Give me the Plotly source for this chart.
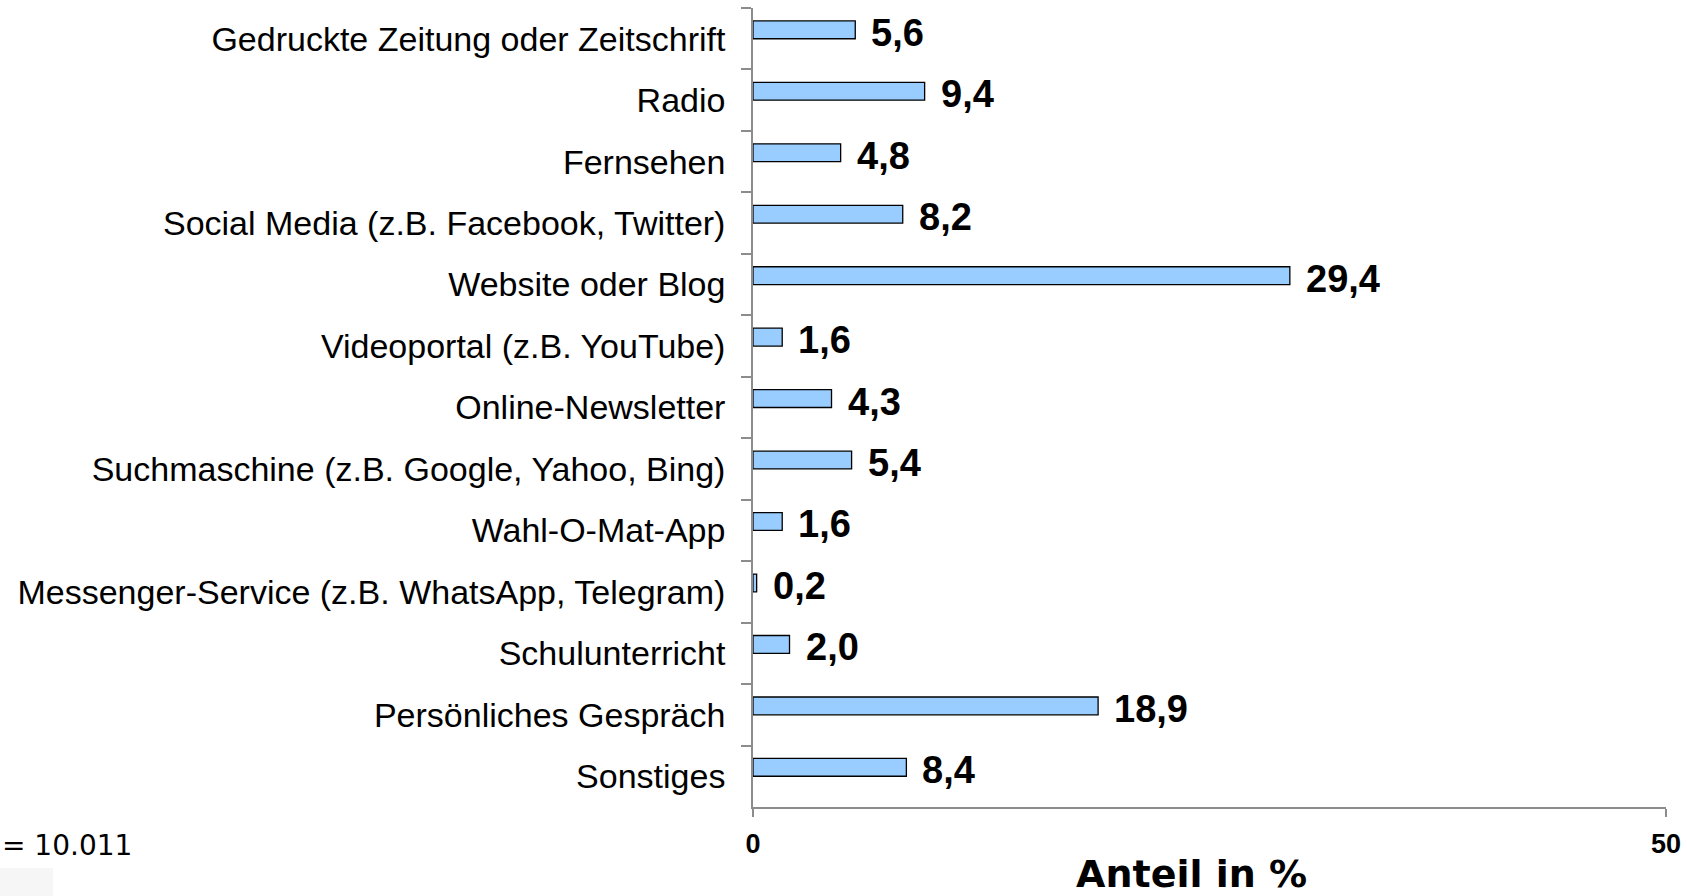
import plotly.graph_objects as go

categories = [
    "Gedruckte Zeitung oder Zeitschrift",
    "Radio",
    "Fernsehen",
    "Social Media (z.B. Facebook, Twitter)",
    "Website oder Blog",
    "Videoportal (z.B. YouTube)",
    "Online-Newsletter",
    "Suchmaschine (z.B. Google, Yahoo, Bing)",
    "Wahl-O-Mat-App",
    "Messenger-Service (z.B. WhatsApp, Telegram)",
    "Schulunterricht",
    "Persönliches Gespräch",
    "Sonstiges",
]
anteil = [5.6, 9.4, 4.8, 8.2, 29.4, 1.6, 4.3, 5.4, 1.6, 0.2, 2.0, 18.9, 8.4]
x_ticks = [0, 50]
n_text = "= 10.011"
x_title = "Anteil in %"

AXIS_GREY = "#8c8c8c"
W, H = 1687, 896
ML, MR, MT, MB = 753, 21, 8, 89
plot_w = W - ML - MR
plot_h = H - MT - MB


def px_x(p):
    return (p - ML) / plot_w


def px_y(p):
    return (H - MB - p) / plot_h


fig = go.Figure()
fig.add_trace(go.Bar(
    x=anteil,
    y=categories,
    orientation="h",
    width=0.29,
    offset=-0.29,
    marker=dict(color="#99ccff", line=dict(color="#000000", width=1.3)),
    hoverinfo="x+y",
))

# value labels with German decimal comma
for cat, v in zip(categories, anteil):
    fig.add_annotation(
        x=v, y=cat, xref="x", yref="y",
        text=f"{v:.1f}".replace(".", ","),
        showarrow=False, xanchor="left", yanchor="middle",
        xshift=14, yshift=6,
        font=dict(family="Liberation Sans, Arial, sans-serif", size=38, color="black", weight="bold"),
    )

fig.add_annotation(
    x=px_x(1191), y=px_y(874), xref="paper", yref="paper",
    text=x_title, showarrow=False, xanchor="center", yanchor="middle",
    font=dict(family="DejaVu Sans, sans-serif", size=38, color="black", weight="bold"),
)
fig.add_annotation(
    x=px_x(0), y=px_y(845), xref="paper", yref="paper",
    text=n_text, showarrow=False, xanchor="left", yanchor="middle",
    font=dict(family="DejaVu Sans, sans-serif", size=28, color="black"),
)
fig.add_shape(
    type="rect", xref="paper", yref="paper",
    x0=px_x(0), x1=px_x(53), y0=px_y(896), y1=px_y(868),
    fillcolor="#f6f6f6", line=dict(width=0), layer="below",
)

fig.update_layout(
    width=W, height=H,
    margin=dict(l=ML, r=MR, t=MT, b=MB, autoexpand=False),
    plot_bgcolor="white", paper_bgcolor="white",
    showlegend=False,
    xaxis=dict(
        range=[0, 50], tickvals=x_ticks, ticks="outside", ticklen=8,
        tickcolor=AXIS_GREY, tickwidth=1.5,
        showline=True, linecolor=AXIS_GREY, linewidth=1.5,
        showgrid=False, zeroline=False,
        ticklabelstandoff=4,
        tickfont=dict(family="Liberation Sans Narrow, Liberation Sans, Arial, sans-serif",
                      size=27, color="black", weight="bold"),
    ),
    yaxis=dict(
        type="category", range=[12.5, -0.5],
        ticks="outside", ticklen=10, tickson="boundaries",
        tickcolor=AXIS_GREY, tickwidth=1.5,
        showline=True, linecolor=AXIS_GREY, linewidth=1.5,
        showgrid=False, zeroline=False,
        ticklabelstandoff=19,
        tickfont=dict(family="Liberation Sans, Arial, sans-serif", size=34, color="black"),
    ),
)

# drop the default 8px body margin so the figure sits flush in the window
fig.write_html("out.html", config={"displayModeBar": False},
               post_script="document.body.style.margin='0';")
